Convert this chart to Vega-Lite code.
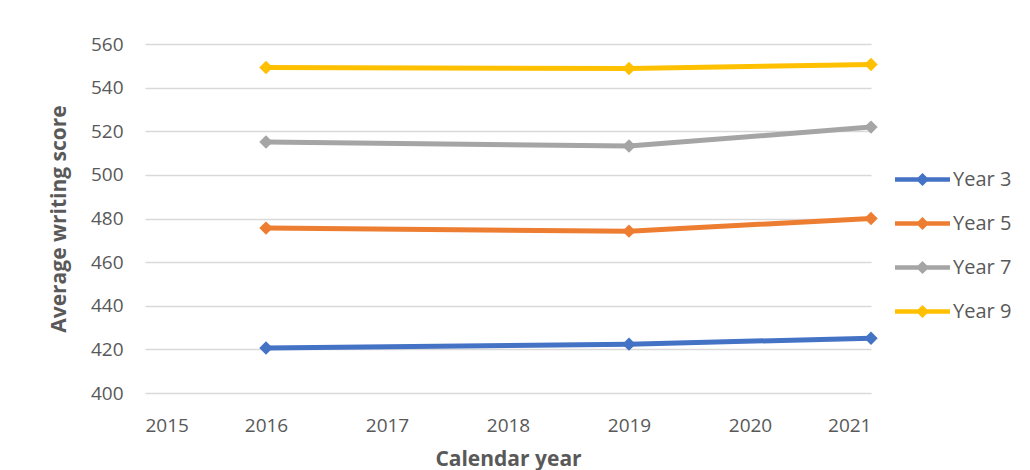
{
  "$schema": "https://vega.github.io/schema/vega-lite/v6.json",
  "width": 726,
  "height": 349,
  "autosize": {"type": "none"},
  "padding": {"left": 145, "top": 44, "right": 159, "bottom": 77},
  "background": "white",
  "config": {
    "view": {"stroke": null},
    "font": "Open Sans",
    "axis": {"labelFont": "Open Sans", "titleFont": "Open Sans", "labelColor": "#595959", "titleColor": "#595959"}
  },
  "data": {
    "values": [
      {"year": 2016, "series": "Year 3", "score": 420.6},
      {"year": 2019, "series": "Year 3", "score": 422.4},
      {"year": 2021, "series": "Year 3", "score": 425.1},
      {"year": 2016, "series": "Year 5", "score": 475.6},
      {"year": 2019, "series": "Year 5", "score": 474.2},
      {"year": 2021, "series": "Year 5", "score": 480.0},
      {"year": 2016, "series": "Year 7", "score": 515.1},
      {"year": 2019, "series": "Year 7", "score": 513.2},
      {"year": 2021, "series": "Year 7", "score": 521.9},
      {"year": 2016, "series": "Year 9", "score": 549.2},
      {"year": 2019, "series": "Year 9", "score": 548.8},
      {"year": 2021, "series": "Year 9", "score": 550.6}
    ]
  },
  "encoding": {
    "x": {
      "field": "year", "type": "quantitative",
      "scale": {"domain": [2015, 2021], "nice": false, "zero": false},
      "axis": {
        "title": "Calendar year", "values": [2015, 2016, 2017, 2018, 2019, 2020, 2021], "format": "d",
        "grid": false, "ticks": false, "domain": false,
        "labelFontSize": 19, "labelPadding": 23,
        "titleFontSize": 21, "titleFontWeight": "bold", "titlePadding": 13
      }
    },
    "y": {
      "field": "score", "type": "quantitative",
      "scale": {"domain": [400, 560], "nice": false, "zero": false},
      "axis": {
        "title": "Average writing score", "values": [400, 420, 440, 460, 480, 500, 520, 540, 560],
        "grid": true, "gridColor": "#d9d9d9", "gridWidth": 1.3,
        "ticks": false, "domain": false,
        "labelFontSize": 19, "labelPadding": 22,
        "titleFontSize": 21, "titleFontWeight": "bold", "titlePadding": 21
      }
    },
    "color": {
      "field": "series", "type": "nominal",
      "scale": {"domain": ["Year 3", "Year 5", "Year 7", "Year 9"], "range": ["#4472C4", "#ED7D31", "#A5A5A5", "#FFC000"]},
      "legend": {
        "title": null, "orient": "none", "legendX": 750, "legendY": 108,
        "symbolType": "M-1,-0.08L1,-0.08L1,0.08L-1,0.08Z M0,-0.24L0.24,0L0,0.24L-0.24,0Z",
        "symbolSize": 3025, "symbolStrokeWidth": 0, "symbolOpacity": 1,
        "labelFontSize": 20, "labelColor": "#595959", "labelFont": "Open Sans", "labelOffset": 3,
        "rowPadding": 6
      }
    }
  },
  "layer": [
    {"mark": {"type": "line", "strokeWidth": 5}},
    {"mark": {"type": "point", "shape": "diamond", "filled": true, "size": 180, "opacity": 1}}
  ]
}
